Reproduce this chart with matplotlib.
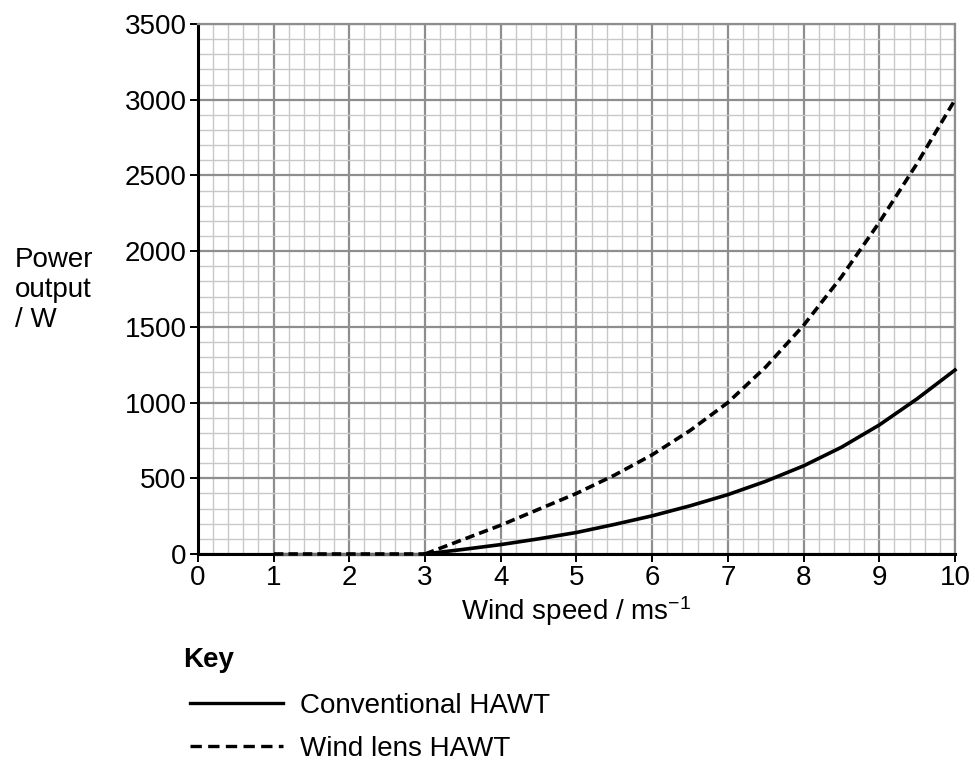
import numpy as np
import matplotlib
matplotlib.use("Agg")
import matplotlib.pyplot as plt
from matplotlib.lines import Line2D

plt.rcParams['font.family'] = ['Liberation Sans', 'DejaVu Sans']
plt.rcParams['mathtext.fontset'] = 'custom'
plt.rcParams['mathtext.rm'] = 'Liberation Sans'
plt.rcParams['mathtext.default'] = 'regular'

# power curves (W), every 0.5 m/s
wind_speed = [3.0, 3.5, 4.0, 4.5, 5.0, 5.5, 6.0, 6.5, 7.0, 7.5, 8.0, 8.5, 9.0, 9.5, 10.0]
conventional = [0, 30, 62, 100, 142, 195, 252, 318, 392, 480, 582, 705, 852, 1025, 1215]
wind_lens = [0, 95, 190, 295, 400, 520, 655, 815, 1000, 1235, 1510, 1830, 2190, 2580, 3000]

# below cut-in speed the wind lens turbine gives nothing
lens_idle_speed = [1.0, 3.0]
lens_idle_power = [0, 0]

x_ticks = list(range(0, 11))
y_ticks = list(range(0, 3501, 500))

fig = plt.figure(figsize=(9.75, 7.69), dpi=100)
ax = fig.add_axes([0.203, 0.2796, 0.7765, 0.6892])

ax.set_xlim(0, 10)
ax.set_ylim(0, 3500)
ax.set_xticks(x_ticks)
ax.set_yticks(y_ticks)
ax.set_xticks(np.arange(0, 10.01, 0.2), minor=True)
ax.set_yticks(np.arange(0, 3501, 100), minor=True)

ax.grid(which='minor', color='#c8c8c8', lw=1.0)
ax.grid(which='major', color='#8e8e8e', lw=1.6)
ax.set_axisbelow(True)

ax.tick_params(which='major', direction='out', length=6, width=1.4,
               labelsize=20, pad=2, color='black')
ax.tick_params(which='minor', length=0)

for side in ['top', 'right']:
    ax.spines[side].set_color('#8e8e8e')
    ax.spines[side].set_linewidth(1.6)
for side in ['left', 'bottom']:
    ax.spines[side].set_color('black')
    ax.spines[side].set_linewidth(2.2)

dash = (0, (2.6, 1.4))
# grey under the idle stretch, then black dashes on top
ax.plot(lens_idle_speed, lens_idle_power, color='#6e6e6e', lw=2.4,
        clip_on=False, zorder=4, solid_capstyle='butt')
ax.plot(lens_idle_speed, lens_idle_power, color='black', lw=2.6,
        linestyle=dash, clip_on=False, zorder=5)
ax.plot(wind_speed, conventional, color='black', lw=2.6, clip_on=False, zorder=5,
        solid_joinstyle='round')
ax.plot(wind_speed, wind_lens, color='black', lw=2.6, linestyle=dash,
        clip_on=False, zorder=5)

ax.set_xlabel('Wind speed / ms$^{-1}$', fontsize=20, labelpad=2)
fig.text(0.015, 0.623, 'Power\noutput\n/ W', fontsize=20, ha='left', va='center',
         linespacing=1.2)

# key below the chart
fig.text(0.188, 0.142, 'Key', fontsize=20, fontweight='bold', ha='left', va='center')
handles = [Line2D([], [], color='black', lw=2.4),
           Line2D([], [], color='black', lw=2.4, linestyle=(0, (3.4, 1.9)))]
fig.legend(handles, ['Conventional HAWT', 'Wind lens HAWT'],
           loc='upper left', bbox_to_anchor=(0.195, 0.099), frameon=False,
           fontsize=20, handlelength=3.35, handletextpad=0.6, labelspacing=0.62,
           borderpad=0, borderaxespad=0)

fig.savefig('out.png', dpi=100)
